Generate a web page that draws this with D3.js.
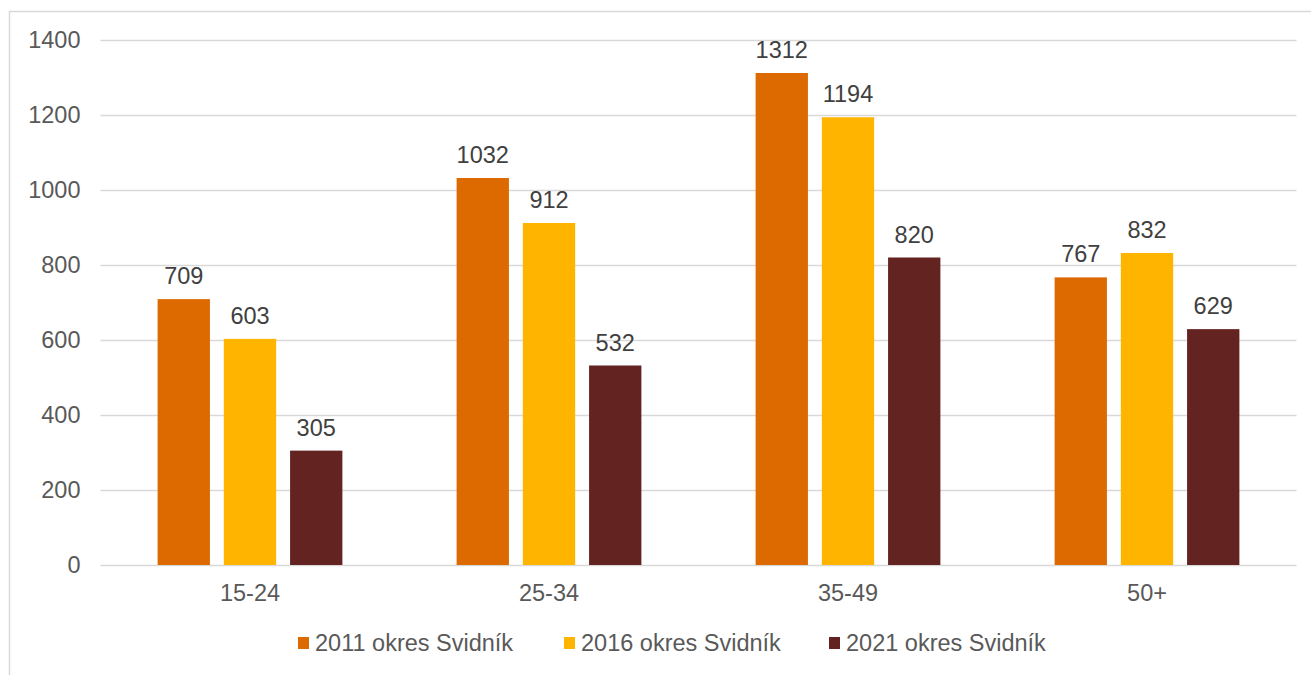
<!DOCTYPE html>
<html>
<head>
<meta charset="utf-8">
<script src="https://cdn.jsdelivr.net/npm/d3@7"></script>
<style>
body { margin:0; background:#fff; }
svg text { font-family: "Liberation Sans", Arial, sans-serif; }
</style>
</head>
<body>
<div id="chart"></div>
<script>
var categories = ["15-24", "25-34", "35-49", "50+"];
var series = ["2011 okres Svidník", "2016 okres Svidník", "2021 okres Svidník"];
var values2011 = [709, 1032, 1312, 767];
var values2016 = [603, 912, 1194, 832];
var values2021 = [305, 532, 820, 629];
var colors = ["#dd6a00", "#ffb400", "#632321"];
var yTicks = [0, 200, 400, 600, 800, 1000, 1200, 1400];

var chart = {
	w:1311,
	h:675,
	padding: {l:100.5, r:14.5, t:40, b:110},
	fs:23.5,
	svg:null
}

chart.svg = d3.select('#chart').append('svg')
			.attr('width', chart.w)
			.attr('height', chart.h);

// chart frame (only top/left visible in the picture)
chart.svg.append('rect')
		.attr('x', 9.5).attr('y', 11.5)
		.attr('width', 1400).attr('height', 800)
		.attr('fill', 'none')
		.attr('stroke', '#d9d9d9')
		.attr('stroke-width', 1.5);

var data = categories.map((c,i) => ({cat:c, vals:[values2011[i], values2016[i], values2021[i]]}));

var x0 = d3.scaleBand()
			.domain(categories)
			.range([chart.padding.l, chart.w - chart.padding.r])
			.paddingInner(0.382)
			.paddingOuter(0.191);

var x1 = d3.scaleBand()
			.domain(d3.range(series.length))
			.range([0, x0.bandwidth()])
			.paddingInner(0.21);

var y = d3.scaleLinear()
			.domain([0, 1400])
			.range([chart.h - chart.padding.b, chart.padding.t]);

// grid
chart.svg.append('g')
		.attr('class', 'grid')
		.selectAll('line')
		.data(yTicks)
		.enter()
		.append('line')
			.attr('x1', chart.padding.l)
			.attr('x2', chart.w - chart.padding.r)
			.attr('y1', d => Math.round(y(d)) + 0.5)
			.attr('y2', d => Math.round(y(d)) + 0.5)
			.attr('stroke', '#d9d9d9')
			.attr('stroke-width', 1.5);

var y_axis = d3.axisLeft(y).tickValues(yTicks).tickFormat(d3.format('d')).tickSize(0).tickPadding(20);
chart.svg.append('g')
		.attr('class', 'axis y')
		.attr('transform', 'translate(' + chart.padding.l + ',0)')
		.attr('font-family', null)
		.call(y_axis)
		.call(g => g.select('.domain').remove())
		.call(g => g.selectAll('text').attr('font-size', chart.fs).attr('fill', '#595959'));

var x_axis = d3.axisBottom(x0).tickSize(0).tickPadding(19);
chart.svg.append('g')
		.attr('class', 'axis x')
		.attr('transform', 'translate(0,' + y(0) + ')')
		.call(x_axis)
		.call(g => g.select('.domain').remove())
		.call(g => g.selectAll('text').attr('font-size', chart.fs).attr('fill', '#595959'));

var groups = chart.svg.append('g')
		.attr('class', 'bars')
		.selectAll('g')
		.data(data)
		.enter()
		.append('g')
			.attr('transform', d => 'translate(' + x0(d.cat) + ',0)');

groups.selectAll('rect')
		.data(d => d.vals)
		.enter()
		.append('rect')
			.attr('x', (d,i) => x1(i))
			.attr('y', d => y(d))
			.attr('width', x1.bandwidth())
			.attr('height', d => y(0) - y(d))
			.attr('fill', (d,i) => colors[i]);

groups.selectAll('text.val')
		.data(d => d.vals)
		.enter()
		.append('text')
			.attr('class', 'val')
			.attr('x', (d,i) => x1(i) + x1.bandwidth()/2)
			.attr('y', d => y(d) - 15)
			.attr('text-anchor', 'middle')
			.attr('font-size', chart.fs)
			.attr('fill', '#404040')
			.text(d => d);

// legend
var legendX = [298, 564, 829];
var legend = chart.svg.append('g')
		.attr('class', 'legend')
		.selectAll('g')
		.data(series)
		.enter()
		.append('g')
			.attr('transform', (d,i) => 'translate(' + legendX[i] + ',643)');

legend.append('rect')
		.attr('x', 0).attr('y', -6)
		.attr('width', 11).attr('height', 12)
		.attr('fill', (d,i) => colors[i]);

legend.append('text')
		.attr('x', 17)
		.attr('y', 8)
		.attr('font-size', chart.fs)
		.attr('fill', '#595959')
		.text(d => d);
</script>
</body>
</html>
